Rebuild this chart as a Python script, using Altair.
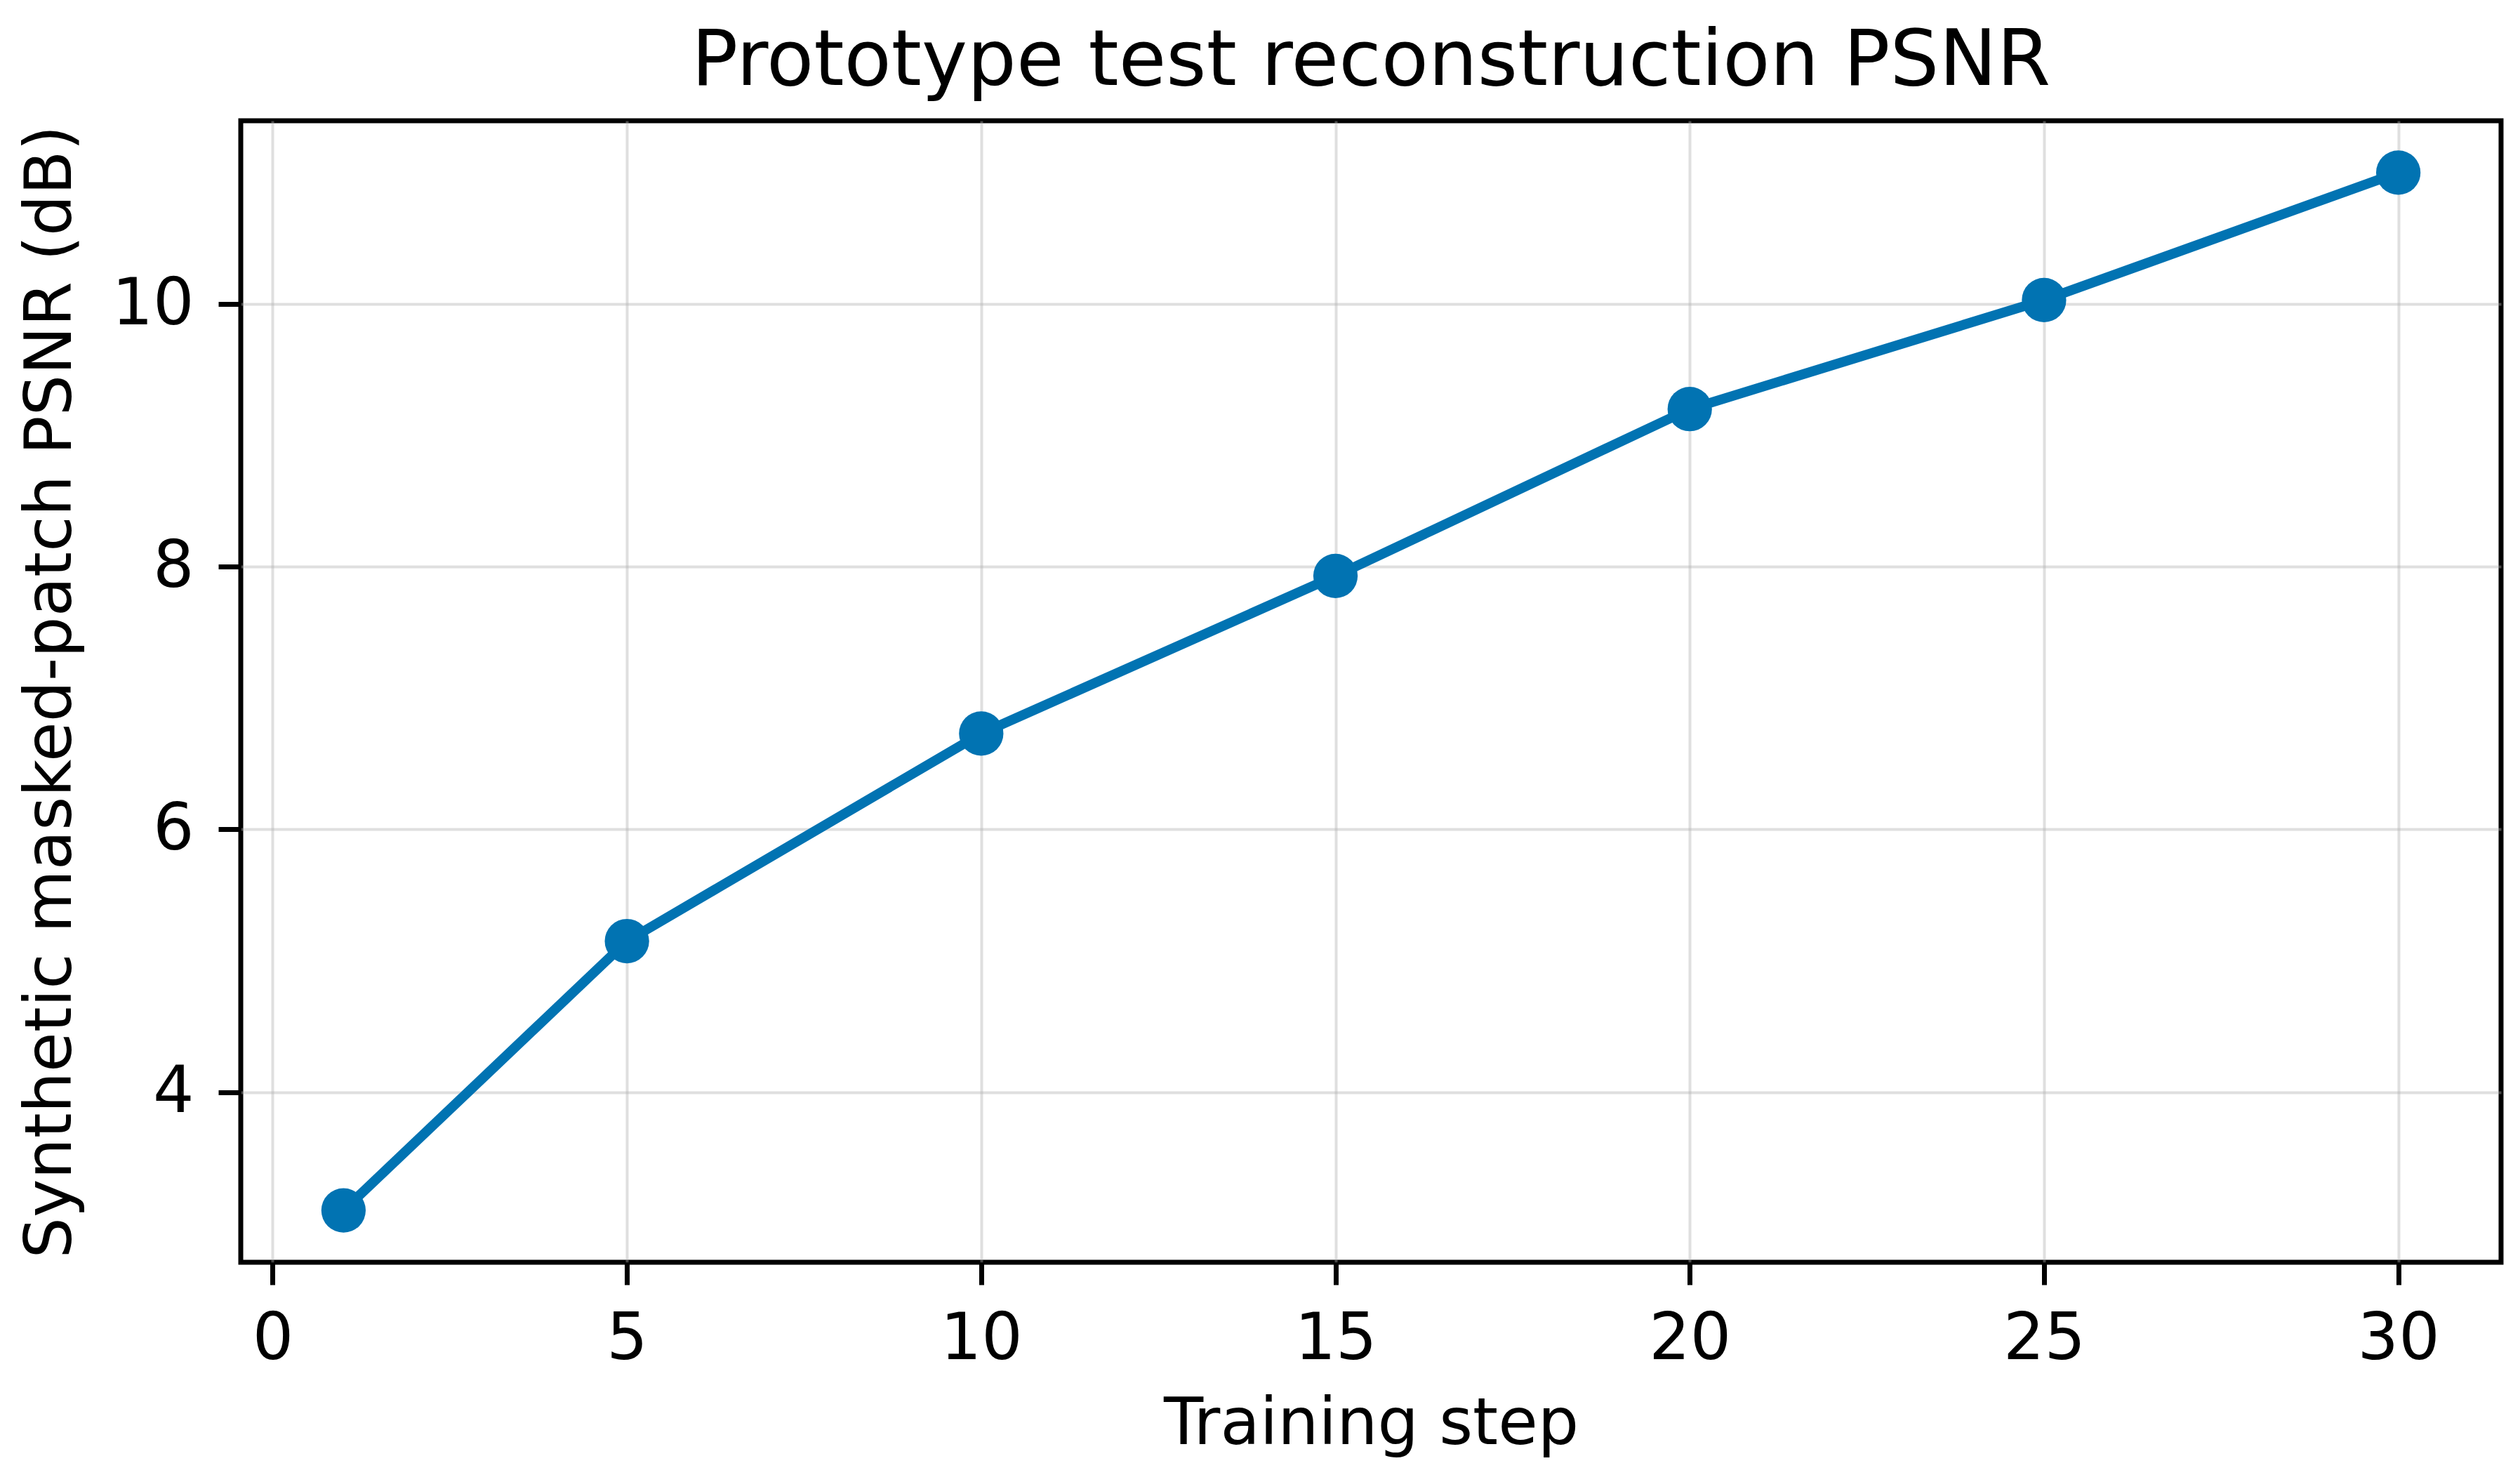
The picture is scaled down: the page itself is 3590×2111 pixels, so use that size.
import altair as alt
import pandas as pd

steps = [1, 5, 10, 15, 20, 25, 30]
psnr = [3.10, 5.15, 6.73, 7.93, 9.20, 10.03, 11.00]
x_ticks = [0, 5, 10, 15, 20, 25, 30]
y_ticks = [4, 6, 8, 10]

df = pd.DataFrame({"step": steps, "psnr": psnr})

FONT = "DejaVu Sans"
BLUE = "#0173B2"

line = alt.Chart(df).mark_line(
    color=BLUE,
    strokeWidth=14,
    point=alt.OverlayMarkDef(filled=True, color=BLUE, size=4000, opacity=1),
).encode(
    x=alt.X(
        "step:Q",
        title="Training step",
        scale=alt.Scale(domain=[-0.45, 31.45], nice=False, zero=False),
        axis=alt.Axis(values=x_ticks, format="d", labelPadding=32, titlePadding=30),
    ),
    y=alt.Y(
        "psnr:Q",
        title="Synthetic masked-patch PSNR (dB)",
        scale=alt.Scale(domain=[2.705, 11.395], nice=False, zero=False),
        axis=alt.Axis(values=y_ticks, format="d", labelPadding=35, titlePadding=39),
    ),
)

chart = line.properties(
    width=3220,
    height=1626,
    background="white",
    title=alt.TitleParams(
        "Prototype test reconstruction PSNR",
        font=FONT, fontSize=110, fontWeight="normal", color="black", offset=28,
    ),
    autosize=alt.AutoSizeParams(type="none"),
    padding={"left": 335, "top": 164, "right": 19, "bottom": 297},
).configure_view(
    stroke="black", strokeWidth=7, fill="white",
).configure_axis(
    domain=False,
    grid=True,
    gridColor="#b0b0b0",
    gridOpacity=0.4,
    gridWidth=4,
    ticks=True,
    tickSize=32,
    tickWidth=7,
    tickColor="black",
    labelFont=FONT,
    labelFontSize=92,
    labelColor="black",
    titleFont=FONT,
    titleFontSize=92,
    titleFontWeight="normal",
    titleColor="black",
)

chart.save("out.html", embed_options={"renderer": "svg", "actions": False})
